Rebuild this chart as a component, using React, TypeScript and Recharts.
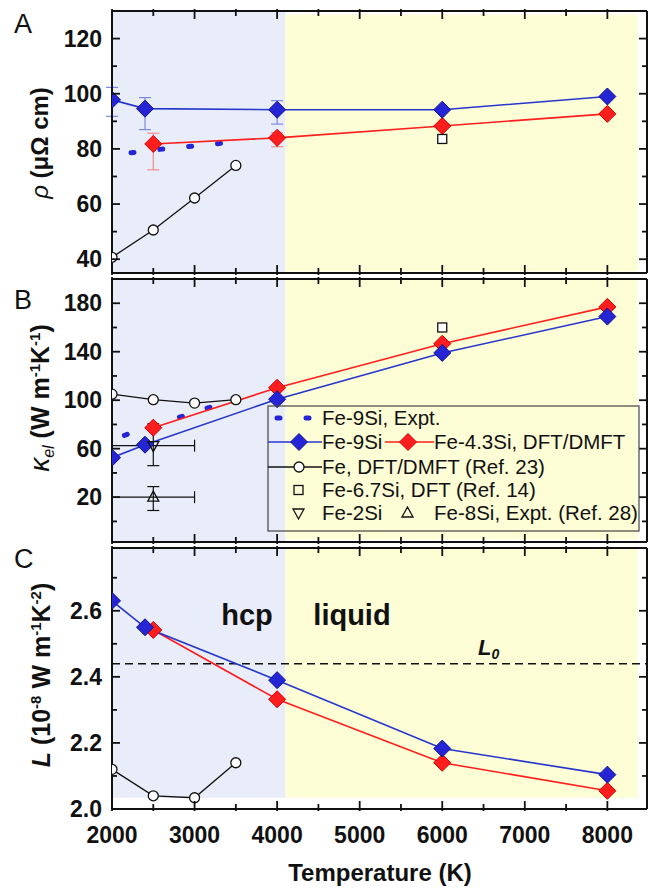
import React from 'react'
import {
  ComposedChart,
  Line,
  Scatter,
  XAxis,
  YAxis,
  ReferenceArea,
  ReferenceLine,
  ErrorBar,
} from 'recharts'

const FONT = '"Liberation Sans", Arial, Helvetica, sans-serif'

// temperature axis (shared)
const T_DOMAIN = [2000, 8480]
const T_TICKS = [2000, 2500, 3000, 3500, 4000, 4500, 5000, 5500, 6000, 6500, 7000, 7500, 8000]
const T_LABELS = [2000, 3000, 4000, 5000, 6000, 7000, 8000]
const HCP_END = 4100
const SHADE_END = 8370

const T_FE9SI = [2000, 2400, 4000, 6000, 8000]
const T_FE43SI = [2500, 4000, 6000, 8000]
const T_FE = [2000, 2500, 3000, 3500]

// A: resistivity
const RHO_DOMAIN = [35, 130]
const RHO_TICKS = [40, 50, 60, 70, 80, 90, 100, 110, 120]
const RHO_LABELS = [40, 60, 80, 100, 120]
const RHO_FE9SI = [97.8, 94.6, 94.2, 94.2, 99]
const RHO_FE9SI_ERR = [[6, 4.5], [7.6, 4], [5.2, 3.3], [0, 0], [0, 0]]
const RHO_FE43SI = [81.8, 84, 88.3, 92.7]
const RHO_FE43SI_ERR = [[9.4, 3.9], [3.2, 1.9], [0, 0], [0, 0]]
const RHO_FE = [40.7, 50.6, 62.2, 74]
const T_EXPT_A = [2230, 2630, 2980, 3380]
const RHO_EXPT = [78.6, 80, 81, 82.2]
const T_FE67SI = [6000]
const RHO_FE67SI = [83.6]

// B: electronic thermal conductivity
const K_DOMAIN = [-17, 200]
const K_TICKS = [0, 20, 40, 60, 80, 100, 120, 140, 160, 180]
const K_LABELS = [20, 60, 100, 140, 180]
const K_FE9SI = [52.6, 63.3, 100.8, 139, 169]
const K_FE43SI = [77.3, 110.3, 146.6, 177]
const K_FE = [105, 100.4, 97.6, 100.4]
const T_EXPT_B = [2150, 2600, 3000, 3450]
const K_EXPT = [71, 81.2, 90, 100]
const K_FE67SI = [160]
const T_FE2SI = [2500]
const K_FE2SI = [62.5]
const K_FE2SI_ERR = [[16.5, 18]]
const T_FE8SI = [2500]
const K_FE8SI = [20]
const K_FE8SI_ERR = [[11, 8.7]]
const T_ERR_X = [500]

// C: Lorenz number
const L_DOMAIN = [2.0, 2.79]
const L_TICKS = [2.0, 2.1, 2.2, 2.3, 2.4, 2.5, 2.6, 2.7]
const L_LABELS = [2.0, 2.2, 2.4, 2.6]
const L_FE9SI = [2.63, 2.55, 2.39, 2.183, 2.104]
const L_FE43SI = [2.542, 2.332, 2.14, 2.055]
const L_FE = [2.12, 2.04, 2.034, 2.14]
const L0 = 2.44

const zip = (ts: number[], vs: number[], es?: number[][], ex?: number[]) =>
  ts.map((T, i) => ({ T, v: vs[i], e: es ? es[i] : undefined, ex: ex ? ex[i] : undefined }))

const BLUE = '#2525d6'
const BLUE_DARK = '#14148c'
const BLUE_LINE = '#2636cc'
const RED = '#ff1e1e'
const RED_DARK = '#d00000'
const BLUE_SHADE = '#e8edf9'
const YELLOW_SHADE = '#fdfdd6'
const INK = '#111'

const tickText = { fontFamily: FONT, fontSize: 23, fontWeight: 700, fill: INK }

function xTick(side: 'top' | 'bottom', labels: number[]) {
  return (p: any) => {
    const { x, y, payload } = p
    const v = payload.value
    const len = v % 1000 === 0 ? 8 : 5
    const d = side === 'bottom' ? -1 : 1
    return (
      <g>
        <line x1={x} x2={x} y1={y - d * 2} y2={y + d * len} stroke={INK} strokeWidth={1.8} />
        {labels.includes(v) && (
          <text x={x} y={y + 34} textAnchor="middle" style={tickText}>
            {v}
          </text>
        )}
      </g>
    )
  }
}

function yTick(side: 'left' | 'right', majors: number[], fmt?: (v: number) => string) {
  return (p: any) => {
    const { x, y, payload } = p
    const v = payload.value
    const major = majors.includes(v)
    const len = major ? 8 : 5
    const d = side === 'left' ? 1 : -1
    return (
      <g>
        <line x1={x} x2={x + d * len} y1={y} y2={y} stroke={INK} strokeWidth={1.8} />
        {side === 'left' && major && (
          <text x={x - 10} y={y + 8} textAnchor="end" style={tickText}>
            {fmt ? fmt(v) : v}
          </text>
        )}
      </g>
    )
  }
}

const diamondPath = (cx: number, cy: number, r: number) =>
  `M${cx},${cy - r}L${cx + r},${cy}L${cx},${cy + r}L${cx - r},${cy}Z`

const blueDiamond = (p: any) =>
  p.cx == null ? <g key={p.index} /> : (
    <path key={p.index} d={diamondPath(p.cx, p.cy, 8.5)} fill={BLUE} stroke={BLUE_DARK} strokeWidth={1} />
  )
const redDiamond = (p: any) =>
  p.cx == null ? <g key={p.index} /> : (
    <path key={p.index} d={diamondPath(p.cx, p.cy, 8.5)} fill={RED} stroke={RED_DARK} strokeWidth={1} />
  )
const openCircle = (p: any) =>
  p.cx == null ? <g key={p.index} /> : (
    <circle key={p.index} cx={p.cx} cy={p.cy} r={5} fill="#fff" stroke={INK} strokeWidth={1.3} />
  )
const openSquare = (p: any) => (
  <rect x={p.cx - 4.5} y={p.cy - 4.5} width={9} height={9} fill="#fff" stroke={INK} strokeWidth={1.3} />
)
const downTri = (p: any) => (
  <path d={`M${p.cx - 5.5},${p.cy - 4}L${p.cx + 5.5},${p.cy - 4}L${p.cx},${p.cy + 6}Z`} fill="none" stroke={INK} strokeWidth={1.3} />
)
const upTri = (p: any) => (
  <path d={`M${p.cx - 5.5},${p.cy + 4}L${p.cx + 5.5},${p.cy + 4}L${p.cx},${p.cy - 6}Z`} fill="none" stroke={INK} strokeWidth={1.3} />
)

// label components: recharts passes its own x/y, so positions come in as px/py
const PanelLetter = ({ ch, py }: { ch: string; py: number }) => (
  <text x={14} y={py} style={{ fontFamily: FONT, fontSize: 27, fill: INK }}>
    {ch}
  </text>
)

const RhoTitle = () => (
  <text
    x={48}
    y={143}
    transform="rotate(-90 48 143)"
    textAnchor="middle"
    style={{ fontFamily: FONT, fontSize: 24, fill: INK }}
  >
    <tspan fontStyle="italic">ρ</tspan>
    <tspan fontWeight={700}> (μΩ cm)</tspan>
  </text>
)

const KappaTitle = () => (
  <text
    x={49}
    y={398}
    transform="rotate(-90 49 398)"
    textAnchor="middle"
    style={{ fontFamily: FONT, fontSize: 25, fill: INK }}
  >
    <tspan fontStyle="italic" fontSize={28}>κ</tspan>
    <tspan fontStyle="italic" fontSize={16} dy={5}>el</tspan>
    <tspan fontWeight={700} dy={-5}> (W m</tspan>
    <tspan fontWeight={700} fontSize={15} dy={-9}>-1</tspan>
    <tspan fontWeight={700} dy={9}>K</tspan>
    <tspan fontWeight={700} fontSize={15} dy={-9}>-1</tspan>
    <tspan fontWeight={700} dy={9}>)</tspan>
  </text>
)

const LorenzTitle = () => (
  <text
    x={50}
    y={675}
    transform="rotate(-90 50 675)"
    textAnchor="middle"
    style={{ fontFamily: FONT, fontSize: 25, fill: INK, fontWeight: 700 }}
  >
    <tspan fontStyle="italic">L</tspan>
    <tspan> (10</tspan>
    <tspan fontSize={15} dy={-9}>-8</tspan>
    <tspan dy={9}> W m</tspan>
    <tspan fontSize={15} dy={-9}>-1</tspan>
    <tspan dy={9}>K</tspan>
    <tspan fontSize={15} dy={-9}>-2</tspan>
    <tspan dy={9}>)</tspan>
  </text>
)

const TempTitle = () => (
  <text x={380} y={881} textAnchor="middle" style={{ fontFamily: FONT, fontSize: 24, fontWeight: 700, fill: INK }}>
    Temperature (K)
  </text>
)

const PhaseLabel = ({ text, px }: { text: string; px: number }) => (
  <text x={px} y={625} textAnchor="middle" style={{ fontFamily: FONT, fontSize: 29, fontWeight: 700, fill: INK }}>
    {text}
  </text>
)

const L0Label = () => (
  <text x={478} y={655} style={{ fontFamily: FONT, fontSize: 22, fontWeight: 700, fontStyle: 'italic', fill: INK }}>
    L<tspan fontSize={14} dy={4}>0</tspan>
  </text>
)

const axisLine = { stroke: INK, strokeWidth: 2 }

function frame(
  yDomain: number[],
  yTicks: number[],
  yMajors: number[],
  topH: number,
  bottomH: number,
  letter: React.ReactElement,
  title: React.ReactElement,
  bottomLabels: number[],
  fmt?: (v: number) => string,
  xTitle?: React.ReactElement,
) {
  return [
    <XAxis
      key="xb"
      type="number"
      dataKey="T"
      domain={T_DOMAIN}
      ticks={T_TICKS}
      interval={0}
      allowDataOverflow
      height={bottomH}
      tickSize={0}
      tickMargin={0}
      tickLine={false}
      axisLine={axisLine}
      tick={xTick('bottom', bottomLabels)}
      label={xTitle}
    />,
    <XAxis
      key="xt"
      xAxisId="top"
      orientation="top"
      type="number"
      dataKey="T"
      domain={T_DOMAIN}
      ticks={T_TICKS}
      interval={0}
      allowDataOverflow
      height={topH}
      tickSize={0}
      tickMargin={0}
      tickLine={false}
      axisLine={axisLine}
      tick={xTick('top', [])}
      label={letter}
    />,
    <YAxis
      key="yl"
      type="number"
      dataKey="v"
      domain={yDomain}
      ticks={yTicks}
      interval={0}
      allowDataOverflow
      width={112}
      tickSize={0}
      tickMargin={0}
      tickLine={false}
      axisLine={axisLine}
      tick={yTick('left', yMajors, fmt)}
      label={title}
    />,
    <YAxis
      key="yr"
      yAxisId="right"
      orientation="right"
      type="number"
      dataKey="v"
      domain={yDomain}
      ticks={yTicks}
      interval={0}
      allowDataOverflow
      width={8}
      tickSize={0}
      tickMargin={0}
      tickLine={false}
      axisLine={axisLine}
      tick={yTick('right', yMajors)}
    />,
  ]
}

function Legend() {
  const txt = { fontFamily: FONT, fontSize: 20.5, fill: INK }
  const rows = [418, 442, 467, 490, 513]
  return (
    <svg width={655} height={888} style={{ position: 'absolute', left: 0, top: 0, pointerEvents: 'none' }}>
      <rect x={268} y={406} width={371} height={125} fill="none" stroke="#444" strokeWidth={1.2} />
      <line x1={277} x2={280} y1={rows[0]} y2={rows[0]} stroke={BLUE} strokeWidth={5} strokeLinecap="round" />
      <line x1={306} x2={309} y1={rows[0]} y2={rows[0]} stroke={BLUE} strokeWidth={5} strokeLinecap="round" />
      <text x={322} y={rows[0] + 7} style={txt}>Fe-9Si, Expt.</text>

      <line x1={268} x2={322} y1={rows[1]} y2={rows[1]} stroke={BLUE_LINE} strokeWidth={1.6} />
      <path d={diamondPath(299, rows[1], 8.5)} fill={BLUE} stroke={BLUE_DARK} />
      <text x={322} y={rows[1] + 7} style={txt}>Fe-9Si</text>
      <line x1={385} x2={434} y1={rows[1]} y2={rows[1]} stroke={RED} strokeWidth={1.6} />
      <path d={diamondPath(408, rows[1], 8.5)} fill={RED} stroke={RED_DARK} />
      <text x={434} y={rows[1] + 7} style={txt}>Fe-4.3Si, DFT/DMFT</text>

      <line x1={268} x2={322} y1={rows[2]} y2={rows[2]} stroke={INK} strokeWidth={1.3} />
      <circle cx={299} cy={rows[2]} r={5} fill="#fff" stroke={INK} strokeWidth={1.3} />
      <text x={322} y={rows[2] + 7} style={txt}>Fe, DFT/DMFT (Ref. 23)</text>

      <rect x={294} y={rows[3] - 4.5} width={9} height={9} fill="none" stroke={INK} strokeWidth={1.3} />
      <text x={322} y={rows[3] + 7} style={txt}>Fe-6.7Si, DFT (Ref. 14)</text>

      <path d={`M293,${rows[4] - 4}L304,${rows[4] - 4}L298.5,${rows[4] + 6}Z`} fill="none" stroke={INK} strokeWidth={1.3} />
      <text x={322} y={rows[4] + 7} style={txt}>Fe-2Si</text>
      <path d={`M402,${rows[4] + 4}L413,${rows[4] + 4}L407.5,${rows[4] - 6}Z`} fill="none" stroke={INK} strokeWidth={1.3} />
      <text x={434} y={rows[4] + 7} style={txt}>Fe-8Si, Expt. (Ref. 28)</text>
    </svg>
  )
}

const chartStyle: React.CSSProperties = { position: 'absolute', left: 0, top: 0 }
const EXPT_DASH = '3 26'

export default function App() {
  return (
    <div style={{ position: 'absolute', left: 0, top: 0, width: 655, height: 888, background: '#fff' }}>
      {/* A: resistivity */}
      <div style={chartStyle}>
        <ComposedChart width={655} height={888} margin={{ top: 0, right: 0, bottom: 603, left: 0 }}>
          {frame(RHO_DOMAIN, RHO_TICKS, RHO_LABELS, 11, 12, <PanelLetter ch="A" py={33} />, <RhoTitle />, [])}
          <ReferenceArea x1={2000} x2={HCP_END} y1={35} y2={130} fill={BLUE_SHADE} fillOpacity={1} stroke="none" />
          <ReferenceArea x1={HCP_END} x2={SHADE_END} y1={35.5} y2={128.7} fill={YELLOW_SHADE} fillOpacity={1} stroke="none" />
          <Line data={zip(T_FE, RHO_FE)} dataKey="v" stroke={INK} strokeWidth={1.3} dot={openCircle} isAnimationActive={false} />
          <Line data={zip(T_EXPT_A, RHO_EXPT)} dataKey="v" stroke={BLUE} strokeWidth={5} strokeDasharray={EXPT_DASH} strokeLinecap="round" dot={false} isAnimationActive={false} />
          <Line data={zip(T_FE43SI, RHO_FE43SI, RHO_FE43SI_ERR)} dataKey="v" stroke={RED} strokeWidth={1.6} dot={redDiamond} isAnimationActive={false}>
            <ErrorBar dataKey="e" stroke="#f08c8c" strokeWidth={1.2} width={6} />
          </Line>
          <Line data={zip(T_FE9SI, RHO_FE9SI, RHO_FE9SI_ERR)} dataKey="v" stroke={BLUE_LINE} strokeWidth={1.6} dot={blueDiamond} isAnimationActive={false}>
            <ErrorBar dataKey="e" stroke="#7d88e4" strokeWidth={1.2} width={6} />
          </Line>
          <Scatter data={zip(T_FE67SI, RHO_FE67SI)} dataKey="v" shape={openSquare} isAnimationActive={false} />
        </ComposedChart>
      </div>

      {/* B: thermal conductivity */}
      <div style={chartStyle}>
        <ComposedChart width={655} height={888} margin={{ top: 269, right: 0, bottom: 336, left: 0 }}>
          {frame(K_DOMAIN, K_TICKS, K_LABELS, 10, 10, <PanelLetter ch="B" py={309} />, <KappaTitle />, [])}
          <ReferenceArea x1={2000} x2={HCP_END} y1={-17} y2={200} fill={BLUE_SHADE} fillOpacity={1} stroke="none" />
          <ReferenceArea x1={HCP_END} x2={SHADE_END} y1={-15} y2={200} fill={YELLOW_SHADE} fillOpacity={1} stroke="none" />
          <Line data={zip(T_FE, K_FE)} dataKey="v" stroke={INK} strokeWidth={1.3} dot={openCircle} isAnimationActive={false} />
          <Line data={zip(T_EXPT_B, K_EXPT)} dataKey="v" stroke={BLUE} strokeWidth={5} strokeDasharray={EXPT_DASH} strokeLinecap="round" dot={false} isAnimationActive={false} />
          <Line data={zip(T_FE43SI, K_FE43SI)} dataKey="v" stroke={RED} strokeWidth={1.6} dot={redDiamond} isAnimationActive={false} />
          <Line data={zip(T_FE9SI, K_FE9SI)} dataKey="v" stroke={BLUE_LINE} strokeWidth={1.6} dot={blueDiamond} isAnimationActive={false} />
          <Scatter data={zip(T_FE67SI, K_FE67SI)} dataKey="v" shape={openSquare} isAnimationActive={false} />
          <Scatter data={zip(T_FE2SI, K_FE2SI, K_FE2SI_ERR, T_ERR_X)} dataKey="v" shape={downTri} isAnimationActive={false}>
            <ErrorBar dataKey="e" direction="y" stroke={INK} strokeWidth={1.2} width={6} />
            <ErrorBar dataKey="ex" direction="x" stroke={INK} strokeWidth={1.2} width={6} />
          </Scatter>
          <Scatter data={zip(T_FE8SI, K_FE8SI, K_FE8SI_ERR, T_ERR_X)} dataKey="v" shape={upTri} isAnimationActive={false}>
            <ErrorBar dataKey="e" direction="y" stroke={INK} strokeWidth={1.2} width={6} />
            <ErrorBar dataKey="ex" direction="x" stroke={INK} strokeWidth={1.2} width={6} />
          </Scatter>
        </ComposedChart>
      </div>

      {/* C: Lorenz number */}
      <div style={chartStyle}>
        <ComposedChart width={655} height={888} margin={{ top: 538, right: 0, bottom: 9, left: 0 }}>
          {frame(
            L_DOMAIN,
            L_TICKS,
            L_LABELS,
            10,
            70,
            <PanelLetter ch="C" py={568} />,
            <LorenzTitle />,
            T_LABELS,
            (v) => v.toFixed(1),
            <TempTitle />,
          )}
          <ReferenceArea x1={2000} x2={HCP_END} y1={2.034} y2={2.79} fill={BLUE_SHADE} fillOpacity={1} stroke="none" label={<PhaseLabel text="hcp" px={247} />} />
          <ReferenceArea x1={HCP_END} x2={SHADE_END} y1={2.034} y2={2.79} fill={YELLOW_SHADE} fillOpacity={1} stroke="none" label={<PhaseLabel text="liquid" px={352} />} />
          <ReferenceLine y={L0} stroke={INK} strokeWidth={1.5} strokeDasharray="8 5" label={<L0Label />} />
          <Line data={zip(T_FE, L_FE)} dataKey="v" stroke={INK} strokeWidth={1.3} dot={openCircle} isAnimationActive={false} />
          <Line data={zip(T_FE43SI, L_FE43SI)} dataKey="v" stroke={RED} strokeWidth={1.6} dot={redDiamond} isAnimationActive={false} />
          <Line data={zip(T_FE9SI, L_FE9SI)} dataKey="v" stroke={BLUE_LINE} strokeWidth={1.6} dot={blueDiamond} isAnimationActive={false} />
        </ComposedChart>
      </div>

      <Legend />
    </div>
  )
}
